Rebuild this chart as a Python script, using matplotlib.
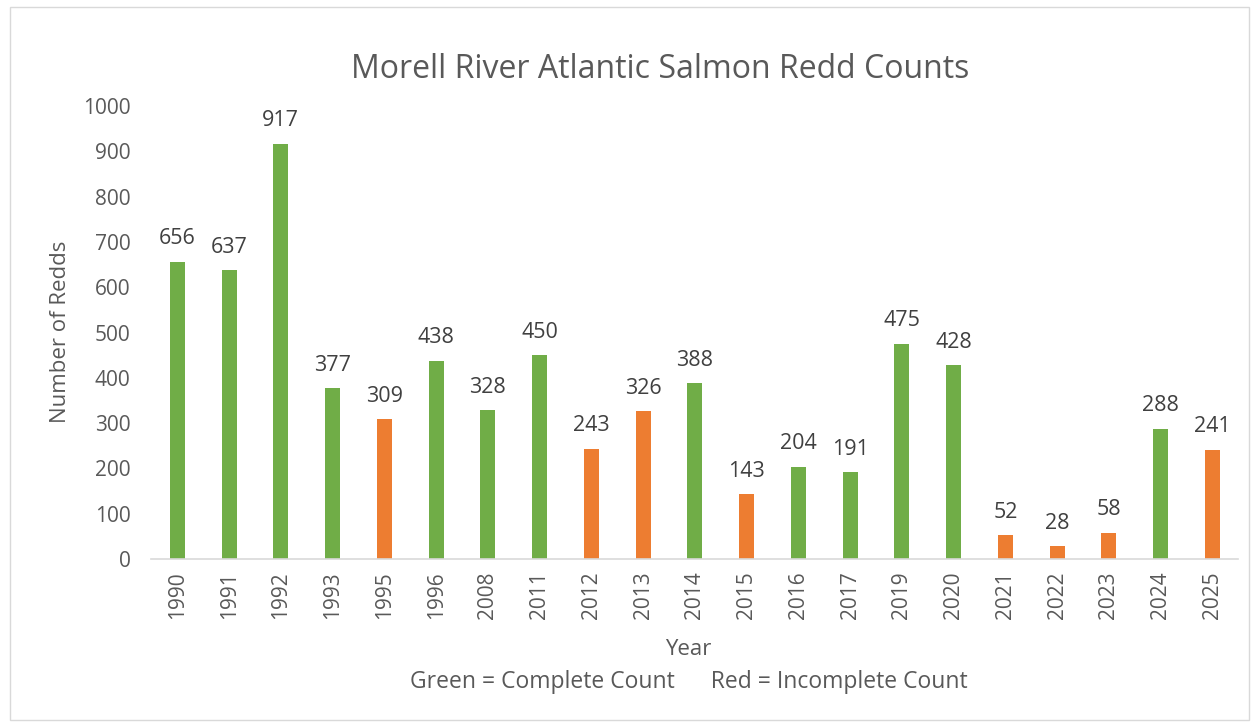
import matplotlib
matplotlib.use("Agg")
import matplotlib.pyplot as plt
from matplotlib.patches import Rectangle

years = ['1990', '1991', '1992', '1993', '1995', '1996', '2008', '2011', '2012', '2013', '2014',
         '2015', '2016', '2017', '2019', '2020', '2021', '2022', '2023', '2024', '2025']
redds = [656, 637, 917, 377, 309, 438, 328, 450, 243, 326, 388,
         143, 204, 191, 475, 428, 52, 28, 58, 288, 241]
complete = [True, True, True, True, False, True, True, True, False, False, True,
            False, True, True, True, True, False, False, False, True, False]

green = '#70AD47'
orange = '#ED7D31'
txt = '#595959'

plt.rcParams['font.family'] = ['Open Sans', 'DejaVu Sans']

fig = plt.figure(figsize=(12.52, 7.26), dpi=100)
ax = fig.add_axes([0.121, 0.23, 0.868, 0.624])

colors = [green if c else orange for c in complete]
x = range(len(years))
ax.bar(x, redds, width=0.29, color=colors)

# value labels above bars
for i, v in enumerate(redds):
    ax.annotate(str(v), (i, v), xytext=(0, 9), textcoords='offset points',
                ha='center', va='bottom', fontsize=15.5, color='#404040')

ax.set_xlim(-0.5, len(years) - 0.5)
ax.set_ylim(0, 1000)
ax.set_yticks(range(0, 1001, 100))
ax.set_xticks(list(x))
ax.set_xticklabels(years, rotation=90)
ax.tick_params(axis='both', length=0, labelsize=15, labelcolor=txt)
ax.tick_params(axis='y', pad=15)
ax.tick_params(axis='x', pad=9)

for s in ['top', 'right', 'left']:
    ax.spines[s].set_visible(False)
ax.spines['bottom'].set_color('#D9D9D9')
ax.spines['bottom'].set_linewidth(1.2)

fig.text(0.527, 0.904, 'Morell River Atlantic Salmon Redd Counts',
         ha='center', va='center', fontsize=23, color=txt)
fig.text(0.048, 0.543, 'Number of Redds', rotation=90,
         ha='center', va='center', fontsize=16, color=txt)
fig.text(0.55, 0.105, 'Year', ha='center', va='center', fontsize=16, color=txt)
fig.text(0.55, 0.061, 'Green = Complete Count      Red = Incomplete Count',
         ha='center', va='center', fontsize=16.5, color=txt)

fig.patches.append(Rectangle((0.008, 0.008), 0.99, 0.982, transform=fig.transFigure,
                             fill=False, edgecolor='#D9D9D9', linewidth=1))

fig.savefig('out.png', dpi=100, facecolor='white')
